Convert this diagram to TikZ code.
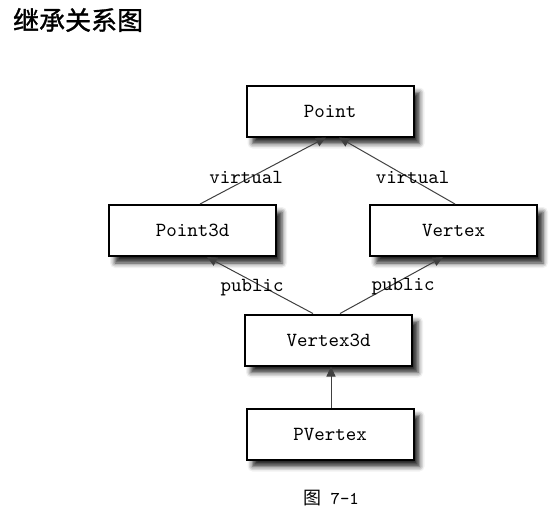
\documentclass[tikz,border=0pt]{standalone}
\usepackage{fontspec}
\newfontfamily\cjk{Noto Sans CJK SC}
\newfontfamily\cjkb[FakeBold=1.2]{Noto Sans CJK SC}
\usetikzlibrary{arrows.meta,shadows.blur}
\begin{document}
\begin{tikzpicture}[x=0.5pt, y=-0.5pt, font=\ttfamily\fontsize{10}{12}\selectfont,
  cls/.style={draw, line width=1pt, fill=white, minimum width=83.5pt, minimum height=25.5pt,
    blur shadow={shadow xshift=3pt, shadow yshift=-3.5pt, shadow blur radius=2.5pt, shadow opacity=85}},
  inh/.style={draw=black!75, line width=0.5pt, -{Triangle[length=5pt,width=4.5pt]}},
  lbl/.style={inner sep=0pt}]
\useasboundingbox (0,0) rectangle (557,511);

\node[anchor=west, font=\cjkb\fontsize{13}{15}\selectfont] (title) at (6,20) {继承关系图};

\begin{scope}
\node[cls] (p) at (330,111) {Point};
\node[cls] (p3) at (192.5,230.5) {Point3d};
\node[cls] (v) at (453.5,230.5) {Vertex};
\node[cls] (v3) at (328.5,340) {Vertex3d};
\node[cls] (pv) at (330,434) {PVertex};

\draw[inh] ([xshift=3.75pt]p3.north) -- node[lbl, shift={(-17,6.5)}] {virtual} ([xshift=-2pt]p.south);
\draw[inh] ([xshift=0.75pt]v.north) -- node[lbl, shift={(15.5,6.5)}] {virtual} ([xshift=4.5pt]p.south);
\draw[inh] ([xshift=-7.75pt]v3.north) -- node[lbl, shift={(-8,2.5)}] {public} ([xshift=7.25pt]p3.south);
\draw[inh] ([xshift=5.75pt]v3.north) -- node[lbl, shift={(11.5,1.5)}] {public} ([xshift=-5.25pt]v.south);
\draw[inh] ([xshift=0.5pt]pv.north) -- ([xshift=1.25pt]v3.south);
\end{scope}

\node[font=\ttfamily\fontsize{9}{11}\selectfont] (cap) at (331,498) {{\cjk 图} 7-1};

\end{tikzpicture}
\end{document}
